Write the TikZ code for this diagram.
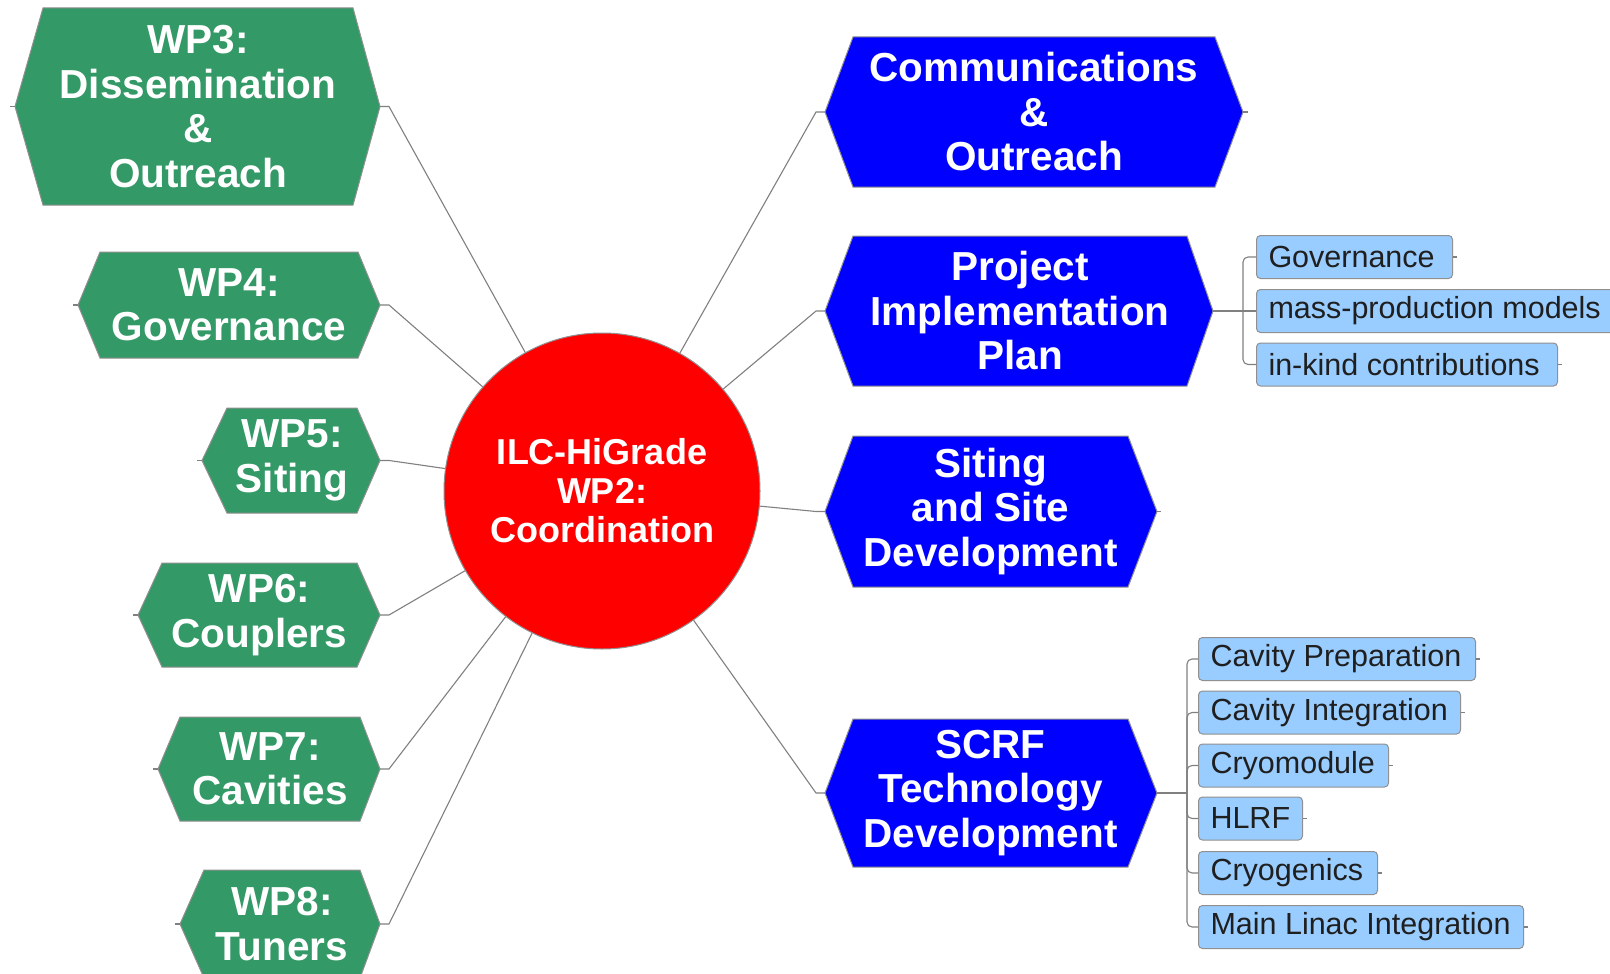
\documentclass[tikz,border=0pt]{standalone}
\usepackage{fontspec}
\setmainfont{Liberation Sans}
\definecolor{wpgreen}{HTML}{339966}
\definecolor{pblue}{HTML}{0000FF}
\definecolor{hubred}{HTML}{FF0000}
\definecolor{subblue}{HTML}{99CCFF}
\definecolor{lineg}{HTML}{808080}
\definecolor{hexedge}{HTML}{909090}
\definecolor{subtext}{HTML}{1F1F1F}
\tikzset{
  hexline/.style={draw=hexedge, line width=1pt},
  hextext/.style={text=white, align=center, inner sep=0pt,
    font=\bfseries\fontsize{40.5}{44.5}\selectfont},
  hubnode/.style={circle, fill=hubred, draw=hexedge, line width=1pt,
    minimum size=316pt, inner sep=0pt, text=white, align=center,
    font=\bfseries\fontsize{36}{39}\selectfont},
  conn/.style={draw=lineg, line width=1.1pt},
  subbox/.style={draw=hexedge, line width=1pt, fill=subblue, rounded corners=4pt,
    anchor=west, minimum height=43pt, inner xsep=12pt, inner ysep=0pt,
    text=subtext, font=\fontsize{30.5}{34}\selectfont},
}
% #1 name, #2 fill, #3 left tip x, #4 left corner x, #5 right corner x, #6 right tip x, #7 top y, #8 bottom y, #9 text
\newcommand\hexnode[9]{%
  \path[hexline, fill=#2] (#3,{(#7+#8)/2}) -- (#4,#7) -- (#5,#7) -- (#6,{(#7+#8)/2}) -- (#5,#8) -- (#4,#8) -- cycle;
  \node[hextext] (#1) at ({(#4+#5)/2},{(#7+#8)/2}) {#9};
  \coordinate (#1-W) at (#3,{(#7+#8)/2});
  \coordinate (#1-E) at (#6,{(#7+#8)/2});
}
\begin{document}
\begin{tikzpicture}[x=1pt,y=-1pt]
\useasboundingbox (0,0) rectangle (1610,974);
\clip (0,0) rectangle (1610,974);
\fill[white] (0,0) rectangle (1610,974);

% hub
\node[hubnode] (hub) at (602,491) {ILC-HiGrade\\WP2:\\Coordination};

% left work packages
\hexnode{wp3}{wpgreen}{15}{43}{353}{380}{8}{205}{WP3:\\Dissemination\\\&\\Outreach}
\hexnode{wp4}{wpgreen}{78}{100}{358}{380}{252}{358}{WP4:\\Governance}
\hexnode{wp5}{wpgreen}{202}{227}{357}{380}{408}{513}{WP5:\\Siting}
\hexnode{wp6}{wpgreen}{138}{162}{357}{380}{563}{667}{WP6:\\Couplers}
\hexnode{wp7}{wpgreen}{158}{180}{360}{380}{717}{821}{WP7:\\Cavities}
\hexnode{wp8}{wpgreen}{180}{204}{360}{380}{870}{978}{WP8:\\Tuners}

% right topics
\hexnode{com}{pblue}{825}{853}{1215}{1243}{37}{187}{Communications\\\&\\Outreach}
\hexnode{pip}{pblue}{825}{853}{1187}{1213}{236}{386}{Project\\Implementation\\Plan}
\hexnode{sit}{pblue}{825}{853}{1128}{1157}{436}{587}{Siting\\and Site\\Development}
\hexnode{scrf}{pblue}{825}{853}{1128}{1157}{719}{867}{SCRF\\Technology\\Development}

% connectors hub -> topics
\foreach \n in {wp3,wp4,wp5,wp6,wp7,wp8}{
  \draw[conn] (\n-E) -- ++(9,0) -- (hub);
  \draw[conn] (\n-W) -- ++(-5,0);
}
\foreach \n in {com,pip,sit,scrf}{
  \draw[conn] (\n-W) -- ++(-9,0) -- (hub);
}
\draw[conn] (com-E) -- ++(5,0);
\draw[conn] (sit-E) -- ++(4,0);

% PIP sub-topics
\node[subbox] (gov)  at (1256,257)   {\makebox[172pt][l]{Governance}};
\node[subbox] (mass) at (1256,311)   {\makebox[345pt][l]{mass-production models}};
\node[subbox] (ink)  at (1256,364.5) {\makebox[277pt][l]{in-kind contributions}};
\coordinate (pipj) at (1243,311);
\draw[conn] (pip-E) -- (mass.west);
\draw[conn, rounded corners=5pt] (pipj) |- (gov.west);
\draw[conn, rounded corners=5pt] (pipj) |- (ink.west);
\draw[conn] (gov.east) -- ++(4,0);
\draw[conn] (ink.east) -- ++(4,0);

% SCRF sub-topics
\node[subbox] (cp) at (1198,659)   {\makebox[253pt][l]{Cavity Preparation}};
\node[subbox] (ci) at (1198,712.5) {\makebox[238pt][l]{Cavity Integration}};
\node[subbox] (cm) at (1198,765.5) {\makebox[166pt][l]{Cryomodule}};
\node[subbox] (hl) at (1198,818.5) {\makebox[80pt][l]{HLRF}};
\node[subbox] (cg) at (1198,873)   {\makebox[155pt][l]{Cryogenics}};
\node[subbox] (ml) at (1198,927)   {\makebox[301pt][l]{Main Linac Integration}};
\coordinate (scrfj) at (1187,793);
\draw[conn] (scrf-E) -- (scrfj);
\foreach \b in {cp,ci,cm,hl,cg,ml}{
  \draw[conn, rounded corners=5pt] (scrfj) |- (\b.west);
  \draw[conn] (\b.east) -- ++(4,0);
}
\end{tikzpicture}
\end{document}
